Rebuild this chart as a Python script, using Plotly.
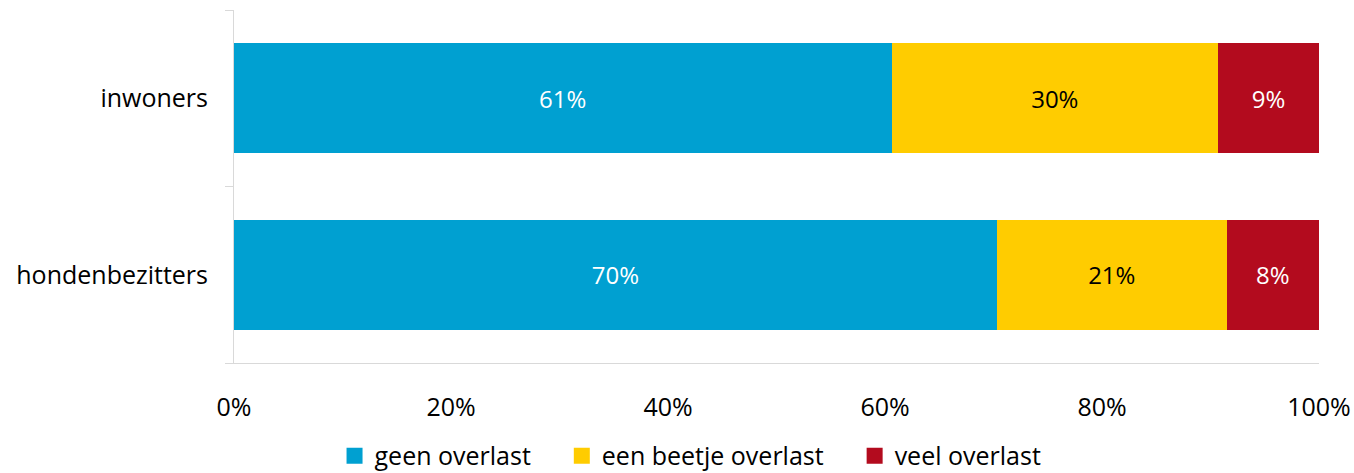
import plotly.graph_objects as go

categories = ["hondenbezitters", "inwoners"]
series_names = ["geen overlast", "een beetje overlast", "veel overlast"]
geen_overlast = [70.3, 60.6]
beetje_overlast = [21.2, 30.1]
veel_overlast = [8.5, 9.3]
x_ticks = [0, 20, 40, 60, 80, 100]
x_tick_labels = ["0%", "20%", "40%", "60%", "80%", "100%"]

colors = ["#00A0D1", "#FFCC00", "#B30B1E"]
text_colors = ["white", "black", "white"]
FONT = "Open Sans"

fig = go.Figure()
for name, vals, col, tcol in zip(series_names, [geen_overlast, beetje_overlast, veel_overlast], colors, text_colors):
    fig.add_trace(go.Bar(
        y=categories, x=vals, name=name, orientation="h",
        marker=dict(color=col, line=dict(width=0)),
        text=[f"{round(v)}%" for v in vals],
        textposition="inside", insidetextanchor="middle",
        textfont=dict(color=tcol, size=24, family=FONT),
        hoverinfo="skip", showlegend=False,
    ))

# legend entries with larger square swatches; non-breaking spaces widen the gaps
for i, (name, col) in enumerate(zip(series_names, colors)):
    pad = "\u00a0" * 4 if i < len(series_names) - 1 else ""
    fig.add_trace(go.Scatter(
        x=[None], y=[None], mode="markers", name=name + pad,
        marker=dict(symbol="square", size=17, color=col),
        showlegend=True, hoverinfo="skip",
    ))

fig.update_layout(
    barmode="stack",
    bargap=0.375,
    width=1354, height=473,
    margin=dict(l=234, r=35, t=10, b=110, autoexpand=False),
    paper_bgcolor="white", plot_bgcolor="white",
    font=dict(family=FONT, size=25, color="black"),
    legend=dict(orientation="h", x=0.51, xanchor="center", xref="container",
                y=0.036, yanchor="middle", yref="container",
                font=dict(size=25), itemwidth=30, traceorder="normal"),
    xaxis=dict(range=[0, 100], tickvals=x_ticks, ticktext=x_tick_labels,
               showgrid=False, zeroline=False, showline=True, linecolor="#d9d9d9",
               linewidth=1, ticks="", ticklabelstandoff=22, fixedrange=True,
               automargin=False),
    yaxis=dict(showgrid=False, showline=True, linecolor="#d9d9d9", linewidth=1,
               ticks="outside", tickson="boundaries", ticklen=8, tickcolor="#d9d9d9",
               ticklabelstandoff=20, automargin=False),
)

fig.write_html("out.html")
